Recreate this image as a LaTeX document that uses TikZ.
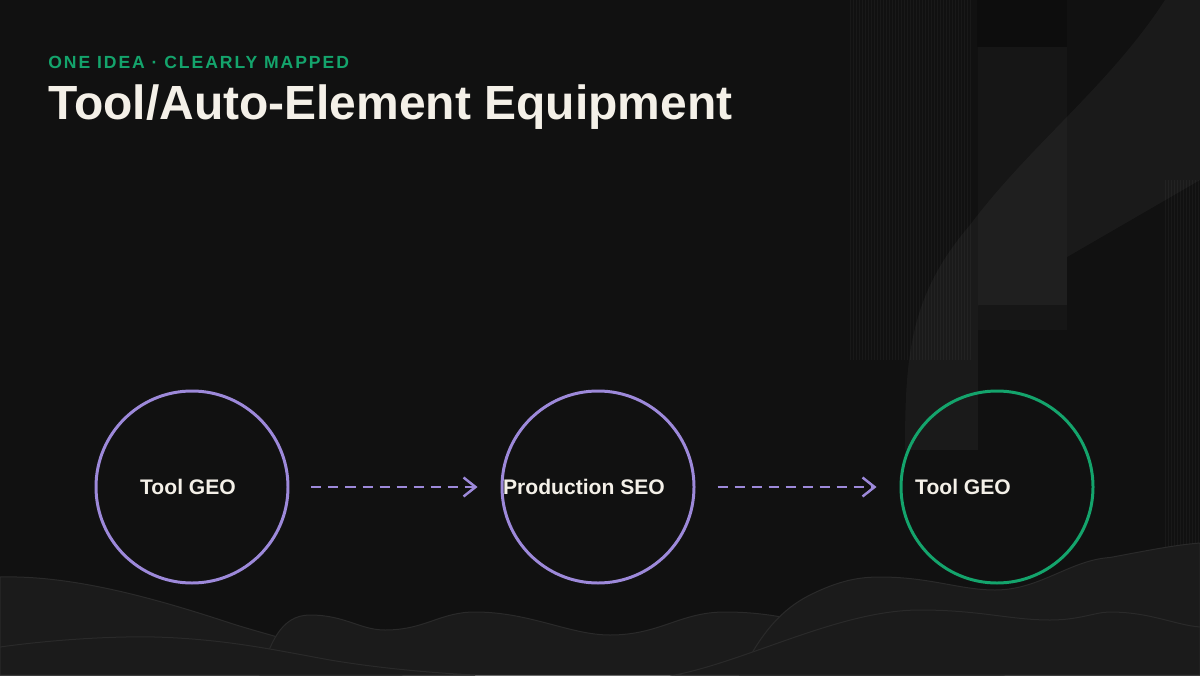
\documentclass[tikz,border=0pt]{standalone}
\usepackage{fontspec}
\setmainfont{Liberation Sans}
\newfontfamily\spacedfont[LetterSpace=11]{Liberation Sans}
\usetikzlibrary{arrows.meta}
\definecolor{bgdark}{HTML}{111111}
\definecolor{stripegray}{HTML}{191919}
\definecolor{towergray}{HTML}{161616}
\definecolor{hill}{HTML}{1B1B1B}
\definecolor{hillline}{HTML}{2A2A2A}
\definecolor{lilac}{HTML}{9D89DA}
\definecolor{jade}{HTML}{14A46C}
\definecolor{cream}{HTML}{F4F0E8}
\tikzset{
  stage/.style={circle, draw=lilac, line width=1.7pt, minimum size=3.84cm, inner sep=0pt},
  stagetext/.style={text=cream, font=\bfseries\fontsize{12}{14}\selectfont, anchor=base},
  hillshape/.style={fill=hill, draw=hillline, line width=0.02cm},
  flow/.style={draw=lilac, line width=1.6pt, dash pattern=on 0.2cm off 0.14cm,
    -{Straight Barb[length=0.24cm, width=0.38cm, line width=1.4pt]},
    shorten <=0.44cm, shorten >=0.46cm}
}
\begin{document}
\begin{tikzpicture}
  % background
  \fill[bgdark] (0,0) rectangle (24,13.5);
  \useasboundingbox (0,0) rectangle (24,13.5);
  % right side towers
  \foreach \i in {0,...,40} {
    \draw[stripegray, line width=0.02cm] (17+\i*0.06,13.5) -- (17+\i*0.06,6.3);
  }
  \foreach \i in {0,...,12} {
    \draw[stripegray, line width=0.02cm] (23.3+\i*0.06,9.9) -- (23.3+\i*0.06,2.5);
  }
  \fill[black!95] (19.54,13.5) rectangle (21.34,12.55);
  \fill[towergray] (19.56,12.55) rectangle (21.34,6.9);
  % light band
  \fill[white, opacity=0.04] (23.3,13.5) .. controls (22.2,11.8) and (20.6,10.6) .. (19.4,9.0)
    .. controls (18.2,7.6) and (18.1,6.4) .. (18.1,4.5)
    -- (19.56,4.5) -- (19.56,7.4) -- (21.34,7.4) -- (21.34,8.36) -- (24,9.9)
    -- (24,13.5) -- cycle;
  % hills at the bottom
  \fill[hillshape] (0,0) -- (0,1.96)
    .. controls (1.5,2.0) and (3.2,1.5) .. (4.6,1.04)
    .. controls (5.5,0.75) and (7,0.4) .. (8,0) -- cycle;
  \fill[hillshape] (5.2,0) .. controls (5.4,0.6) and (5.6,1.2) .. (6.2,1.2)
    .. controls (6.9,1.2) and (7.2,0.9) .. (7.7,0.9)
    .. controls (8.5,0.9) and (8.8,1.26) .. (9.5,1.26)
    .. controls (10.6,1.26) and (11.4,0.8) .. (12.2,0.8)
    .. controls (13.2,0.8) and (13.6,1.26) .. (14.5,1.26)
    .. controls (15.6,1.26) and (16.2,1.0) .. (16.8,0.9)
    .. controls (18,0.6) and (19,0.2) .. (20,0) -- cycle;
  \fill[hillshape] (14.8,0) .. controls (15.2,0.8) and (15.6,1.3) .. (16.2,1.6)
    .. controls (16.8,1.9) and (17.2,1.96) .. (17.6,1.96)
    .. controls (18.6,1.96) and (19.2,1.7) .. (19.9,1.7)
    .. controls (20.8,1.7) and (21.4,2.3) .. (22.2,2.35)
    .. controls (23,2.5) and (23.5,2.6) .. (24,2.64) -- (24,0) -- cycle;
  \fill[hillshape] (0,0) -- (0,0.56)
    .. controls (1,0.7) and (2.2,0.78) .. (3.1,0.76)
    .. controls (4.5,0.72) and (5.5,0.5) .. (6.6,0.3)
    .. controls (7.5,0.15) and (8.5,0.05) .. (9.5,0) -- cycle;
  \fill[hillshape] (13.5,0) .. controls (15,0.3) and (16.8,1.3) .. (18.4,1.3)
    .. controls (19.6,1.3) and (20.2,1.1) .. (21,1.1)
    .. controls (21.6,1.1) and (21.9,1.26) .. (22.2,1.26)
    .. controls (23,1.26) and (23.5,1.0) .. (24,0.96) -- (24,0) -- cycle;
  % heading
  \node[anchor=base west, inner sep=0pt, text=jade] (kicker) at (0.96,12.12)
    {\spacedfont\bfseries\fontsize{10}{12}\selectfont ONE IDEA · CLEARLY MAPPED};
  \node[anchor=base west, inner sep=0pt, text=cream] (title) at (0.96,11.1)
    {\bfseries\fontsize{27.3}{32}\selectfont Tool/Auto-Element Equipment};
  % stages
  \node[stage] (geo) at (3.84,3.76) {};
  \node[stage] (seo) at (11.96,3.76) {};
  \node[stage, draw=jade] (geoout) at (19.94,3.76) {};
  \node[stagetext] (geotext) at (3.76,3.62) {Tool GEO};
  \node[stagetext] (seotext) at (11.68,3.62) {Production SEO};
  \node[stagetext] (geoouttext) at (19.26,3.62) {Tool GEO};
  \draw[flow] (geo.east) -- (seo.west);
  \draw[flow] (seo.east) -- (geoout.west);
\end{tikzpicture}
\end{document}
